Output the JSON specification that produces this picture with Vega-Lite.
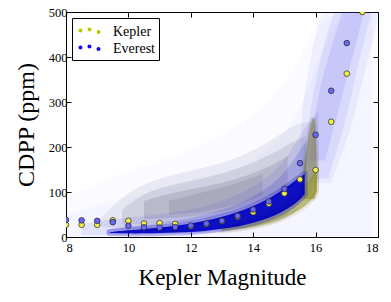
{
  "$schema": "https://vega.github.io/schema/vega-lite/v6.json",
  "width": 312,
  "height": 225,
  "autosize": {"type": "none"},
  "padding": {"left": 66, "top": 12, "right": 13, "bottom": 65},
  "background": "white",
  "config": {
    "view": {"stroke": "black", "strokeWidth": 1},
    "font": "Liberation Serif",
    "axis": {
      "domain": false, "grid": false, "tickSize": -5, "tickColor": "black", "tickWidth": 1,
      "labelFont": "Liberation Serif", "labelFontSize": 12.5, "labelColor": "black",
      "titleFont": "Liberation Serif", "titleFontWeight": "normal", "titleColor": "black"
    },
    "area": {"interpolate": "basis", "clip": true}
  },
  "datasets": {
    "bands": [
      {"layer": "haze1", "mag": 8, "lo": 0, "hi": 90},
      {"layer": "haze1", "mag": 10, "lo": 0, "hi": 150},
      {"layer": "haze1", "mag": 12, "lo": 0, "hi": 190},
      {"layer": "haze1", "mag": 14, "lo": 0, "hi": 260},
      {"layer": "haze1", "mag": 15.5, "lo": 0, "hi": 380},
      {"layer": "haze1", "mag": 16, "lo": 0, "hi": 500},
      {"layer": "haze1", "mag": 18, "lo": 0, "hi": 500},
      {"layer": "haze2", "mag": 8, "lo": 0, "hi": 50},
      {"layer": "haze2", "mag": 10, "lo": 0, "hi": 90},
      {"layer": "haze2", "mag": 12, "lo": 0, "hi": 120},
      {"layer": "haze2", "mag": 14, "lo": 0, "hi": 160},
      {"layer": "haze2", "mag": 15.5, "lo": 0, "hi": 250},
      {"layer": "haze2", "mag": 16.5, "lo": 0, "hi": 500},
      {"layer": "haze2", "mag": 17.8, "lo": 0, "hi": 500},

      {"layer": "g1", "mag": 9.0, "lo": 25, "hi": 35},
      {"layer": "g1", "mag": 9.8, "lo": 18, "hi": 90},
      {"layer": "g1", "mag": 10.5, "lo": 18, "hi": 120},
      {"layer": "g1", "mag": 11.5, "lo": 22, "hi": 140},
      {"layer": "g1", "mag": 12.5, "lo": 30, "hi": 155},
      {"layer": "g1", "mag": 13.5, "lo": 45, "hi": 175},
      {"layer": "g1", "mag": 14.5, "lo": 70, "hi": 210},
      {"layer": "g1", "mag": 15.2, "lo": 95, "hi": 245},
      {"layer": "g1", "mag": 15.7, "lo": 130, "hi": 260},
      {"layer": "g1", "mag": 16.0, "lo": 170, "hi": 250},
      {"layer": "g2", "mag": 9.8, "lo": 28, "hi": 60},
      {"layer": "g2", "mag": 10.5, "lo": 28, "hi": 100},
      {"layer": "g2", "mag": 11.5, "lo": 32, "hi": 118},
      {"layer": "g2", "mag": 12.5, "lo": 40, "hi": 132},
      {"layer": "g2", "mag": 13.5, "lo": 55, "hi": 150},
      {"layer": "g2", "mag": 14.5, "lo": 80, "hi": 180},
      {"layer": "g2", "mag": 15.2, "lo": 105, "hi": 210},
      {"layer": "g2", "mag": 15.7, "lo": 140, "hi": 225},
      {"layer": "g3", "mag": 10.5, "lo": 40, "hi": 80},
      {"layer": "g3", "mag": 11.5, "lo": 42, "hi": 100},
      {"layer": "g3", "mag": 12.5, "lo": 50, "hi": 112},
      {"layer": "g3", "mag": 13.5, "lo": 62, "hi": 128},
      {"layer": "g3", "mag": 14.5, "lo": 88, "hi": 155},
      {"layer": "g3", "mag": 15.1, "lo": 110, "hi": 180},
      {"layer": "g4", "mag": 11.3, "lo": 50, "hi": 80},
      {"layer": "g4", "mag": 12.3, "lo": 55, "hi": 98},
      {"layer": "g4", "mag": 13.3, "lo": 68, "hi": 115},
      {"layer": "g4", "mag": 14.3, "lo": 92, "hi": 140},

      {"layer": "h1", "mag": 8.5, "lo": 4, "hi": 30},
      {"layer": "h1", "mag": 9.5, "lo": 4, "hi": 40},
      {"layer": "h1", "mag": 11, "lo": 5, "hi": 50},
      {"layer": "h1", "mag": 12, "lo": 7, "hi": 60},
      {"layer": "h1", "mag": 13, "lo": 10, "hi": 78},
      {"layer": "h1", "mag": 14, "lo": 18, "hi": 110},
      {"layer": "h1", "mag": 14.8, "lo": 32, "hi": 150},
      {"layer": "h1", "mag": 15.3, "lo": 50, "hi": 200},
      {"layer": "h1", "mag": 15.7, "lo": 80, "hi": 250},
      {"layer": "h1", "mag": 16.1, "lo": 130, "hi": 280},
      {"layer": "h2", "mag": 9.3, "lo": 6, "hi": 16},
      {"layer": "h2", "mag": 10, "lo": 6, "hi": 24},
      {"layer": "h2", "mag": 11, "lo": 7, "hi": 30},
      {"layer": "h2", "mag": 12, "lo": 9, "hi": 42},
      {"layer": "h2", "mag": 13, "lo": 14, "hi": 58},
      {"layer": "h2", "mag": 14, "lo": 24, "hi": 88},
      {"layer": "h2", "mag": 14.8, "lo": 40, "hi": 125},
      {"layer": "h2", "mag": 15.3, "lo": 60, "hi": 170},
      {"layer": "h2", "mag": 15.7, "lo": 95, "hi": 215},

      {"layer": "fringe", "mag": 13, "lo": 13, "hi": 22},
      {"layer": "fringe", "mag": 13.5, "lo": 17, "hi": 30},
      {"layer": "fringe", "mag": 14, "lo": 22, "hi": 42},
      {"layer": "fringe", "mag": 14.5, "lo": 30, "hi": 56},
      {"layer": "fringe", "mag": 15, "lo": 42, "hi": 78},
      {"layer": "fringe", "mag": 15.5, "lo": 60, "hi": 105},
      {"layer": "fringe", "mag": 15.85, "lo": 80, "hi": 130},
      {"layer": "fringe", "mag": 16.03, "lo": 100, "hi": 150},

      {"layer": "core", "mag": 9.4, "lo": 9, "hi": 10.5},
      {"layer": "core", "mag": 10, "lo": 8, "hi": 15},
      {"layer": "core", "mag": 10.5, "lo": 8, "hi": 18},
      {"layer": "core", "mag": 11, "lo": 9, "hi": 21},
      {"layer": "core", "mag": 11.5, "lo": 10, "hi": 25},
      {"layer": "core", "mag": 12, "lo": 11, "hi": 30},
      {"layer": "core", "mag": 12.5, "lo": 14, "hi": 36},
      {"layer": "core", "mag": 13, "lo": 18, "hi": 45},
      {"layer": "core", "mag": 13.5, "lo": 23, "hi": 55},
      {"layer": "core", "mag": 14, "lo": 31, "hi": 68},
      {"layer": "core", "mag": 14.5, "lo": 42, "hi": 85},
      {"layer": "core", "mag": 15, "lo": 58, "hi": 107},
      {"layer": "core", "mag": 15.4, "lo": 76, "hi": 128},
      {"layer": "core", "mag": 15.65, "lo": 95, "hi": 140}
    ],
    "cols": [
      {"layer": "cw", "cdpp": 120, "left": 15.5, "right": 16.5},
      {"layer": "cw", "cdpp": 250, "left": 15.5, "right": 17.2},
      {"layer": "cw", "cdpp": 350, "left": 15.7, "right": 17.5},
      {"layer": "cw", "cdpp": 450, "left": 16.0, "right": 17.9},
      {"layer": "cw", "cdpp": 500, "left": 16.2, "right": 18.0},
      {"layer": "cm", "cdpp": 130, "left": 15.6, "right": 16.4},
      {"layer": "cm", "cdpp": 250, "left": 15.75, "right": 16.95},
      {"layer": "cm", "cdpp": 350, "left": 16.0, "right": 17.25},
      {"layer": "cm", "cdpp": 450, "left": 16.35, "right": 17.6},
      {"layer": "cm", "cdpp": 500, "left": 16.6, "right": 17.8},
      {"layer": "ci", "cdpp": 170, "left": 15.8, "right": 16.3},
      {"layer": "ci", "cdpp": 260, "left": 15.95, "right": 16.65},
      {"layer": "ci", "cdpp": 340, "left": 16.15, "right": 16.95},
      {"layer": "ci", "cdpp": 430, "left": 16.55, "right": 17.3},
      {"layer": "ci", "cdpp": 500, "left": 16.85, "right": 17.55},
      {"layer": "olive", "cdpp": 85, "left": 15.5, "right": 15.95},
      {"layer": "olive", "cdpp": 110, "left": 15.55, "right": 16.04},
      {"layer": "olive", "cdpp": 150, "left": 15.62, "right": 16.04},
      {"layer": "olive", "cdpp": 200, "left": 15.72, "right": 16.02},
      {"layer": "olive", "cdpp": 240, "left": 15.82, "right": 16.0},
      {"layer": "olive", "cdpp": 262, "left": 15.9, "right": 15.97}
    ],
    "med": [
      {"src": "Kepler", "mag": 8, "cdpp": 27},
      {"src": "Kepler", "mag": 8.5, "cdpp": 27},
      {"src": "Kepler", "mag": 9, "cdpp": 27},
      {"src": "Kepler", "mag": 9.5, "cdpp": 37},
      {"src": "Kepler", "mag": 10, "cdpp": 36},
      {"src": "Kepler", "mag": 10.5, "cdpp": 30},
      {"src": "Kepler", "mag": 11, "cdpp": 31},
      {"src": "Kepler", "mag": 11.5, "cdpp": 29},
      {"src": "Kepler", "mag": 12, "cdpp": 24},
      {"src": "Kepler", "mag": 12.5, "cdpp": 29},
      {"src": "Kepler", "mag": 13, "cdpp": 35},
      {"src": "Kepler", "mag": 13.5, "cdpp": 45},
      {"src": "Kepler", "mag": 14, "cdpp": 55},
      {"src": "Kepler", "mag": 14.5, "cdpp": 74},
      {"src": "Kepler", "mag": 15, "cdpp": 97},
      {"src": "Kepler", "mag": 15.5, "cdpp": 128},
      {"src": "Kepler", "mag": 16, "cdpp": 149},
      {"src": "Kepler", "mag": 16.5, "cdpp": 256},
      {"src": "Kepler", "mag": 17, "cdpp": 363},
      {"src": "Kepler", "mag": 17.5, "cdpp": 500},
      {"src": "Everest", "mag": 8, "cdpp": 38},
      {"src": "Everest", "mag": 8.5, "cdpp": 37},
      {"src": "Everest", "mag": 9, "cdpp": 36},
      {"src": "Everest", "mag": 9.5, "cdpp": 33},
      {"src": "Everest", "mag": 10, "cdpp": 25},
      {"src": "Everest", "mag": 10.5, "cdpp": 21.5},
      {"src": "Everest", "mag": 11, "cdpp": 21},
      {"src": "Everest", "mag": 11.5, "cdpp": 22},
      {"src": "Everest", "mag": 12, "cdpp": 25.5},
      {"src": "Everest", "mag": 12.5, "cdpp": 30},
      {"src": "Everest", "mag": 13, "cdpp": 36},
      {"src": "Everest", "mag": 13.5, "cdpp": 47},
      {"src": "Everest", "mag": 14, "cdpp": 61},
      {"src": "Everest", "mag": 14.5, "cdpp": 79},
      {"src": "Everest", "mag": 15, "cdpp": 107},
      {"src": "Everest", "mag": 15.5, "cdpp": 164},
      {"src": "Everest", "mag": 16, "cdpp": 227},
      {"src": "Everest", "mag": 16.5, "cdpp": 325},
      {"src": "Everest", "mag": 17, "cdpp": 431}
    ]
  },
  "resolve": {"axis": {"x": "independent", "y": "independent"}, "scale": {"color": "independent"}},
  "layer": [
    {
      "data": {"name": "bands"},
      "transform": [{"filter": "datum.layer === 'haze1'"}],
      "mark": {"type": "area", "color": "#5050ff", "opacity": 0.03},
      "encoding": {
        "x": {"field": "mag", "type": "quantitative", "scale": {"domain": [8, 18], "nice": false, "zero": false},
              "axis": {"title": "Kepler Magnitude", "titleFontSize": 23, "values": [8, 10, 12, 14, 16, 18], "labelPadding": 9, "titlePadding": 13}},
        "y": {"field": "lo", "type": "quantitative", "scale": {"domain": [0, 500], "nice": false},
              "axis": {"title": "CDPP (ppm)", "titleFontSize": 24, "values": [0, 100, 200, 300, 400, 500], "labelPadding": 4, "titlePadding": 10}},
        "y2": {"field": "hi"}
      }
    },
    {
      "data": {"name": "bands"},
      "transform": [{"filter": "datum.layer === 'haze2'"}],
      "mark": {"type": "area", "color": "#5050ff", "opacity": 0.03},
      "encoding": {"x": {"field": "mag", "type": "quantitative", "axis": null}, "y": {"field": "lo", "type": "quantitative", "axis": null}, "y2": {"field": "hi"}}
    },
    {
      "data": {"name": "bands"},
      "transform": [{"filter": "datum.layer === 'g1'"}],
      "mark": {"type": "area", "color": "#76769a", "opacity": 0.12},
      "encoding": {"x": {"field": "mag", "type": "quantitative", "axis": null}, "y": {"field": "lo", "type": "quantitative", "axis": null}, "y2": {"field": "hi"}}
    },
    {
      "data": {"name": "bands"},
      "transform": [{"filter": "datum.layer === 'g2'"}],
      "mark": {"type": "area", "color": "#6a6a8a", "opacity": 0.17},
      "encoding": {"x": {"field": "mag", "type": "quantitative", "axis": null}, "y": {"field": "lo", "type": "quantitative", "axis": null}, "y2": {"field": "hi"}}
    },
    {
      "data": {"name": "bands"},
      "transform": [{"filter": "datum.layer === 'g3'"}],
      "mark": {"type": "area", "color": "#5f5f7a", "opacity": 0.2},
      "encoding": {"x": {"field": "mag", "type": "quantitative", "axis": null}, "y": {"field": "lo", "type": "quantitative", "axis": null}, "y2": {"field": "hi"}}
    },
    {
      "data": {"name": "bands"},
      "transform": [{"filter": "datum.layer === 'g4'"}],
      "mark": {"type": "area", "color": "#585878", "opacity": 0.15},
      "encoding": {"x": {"field": "mag", "type": "quantitative", "axis": null}, "y": {"field": "lo", "type": "quantitative", "axis": null}, "y2": {"field": "hi"}}
    },
    {
      "data": {"name": "cols"},
      "transform": [{"filter": "datum.layer === 'cw'"}],
      "mark": {"type": "area", "orient": "horizontal", "color": "#5858ee", "opacity": 0.07},
      "encoding": {"y": {"field": "cdpp", "type": "quantitative", "axis": null}, "x": {"field": "left", "type": "quantitative", "axis": null}, "x2": {"field": "right"}}
    },
    {
      "data": {"name": "cols"},
      "transform": [{"filter": "datum.layer === 'cm'"}],
      "mark": {"type": "area", "orient": "horizontal", "color": "#5050ea", "opacity": 0.1},
      "encoding": {"y": {"field": "cdpp", "type": "quantitative", "axis": null}, "x": {"field": "left", "type": "quantitative", "axis": null}, "x2": {"field": "right"}}
    },
    {
      "data": {"name": "cols"},
      "transform": [{"filter": "datum.layer === 'ci'"}],
      "mark": {"type": "area", "orient": "horizontal", "color": "#4848e6", "opacity": 0.12},
      "encoding": {"y": {"field": "cdpp", "type": "quantitative", "axis": null}, "x": {"field": "left", "type": "quantitative", "axis": null}, "x2": {"field": "right"}}
    },
    {
      "data": {"name": "bands"},
      "transform": [{"filter": "datum.layer === 'h1'"}],
      "mark": {"type": "area", "color": "#3030e0", "opacity": 0.1},
      "encoding": {"x": {"field": "mag", "type": "quantitative", "axis": null}, "y": {"field": "lo", "type": "quantitative", "axis": null}, "y2": {"field": "hi"}}
    },
    {
      "data": {"name": "bands"},
      "transform": [{"filter": "datum.layer === 'h2'"}],
      "mark": {"type": "area", "color": "#2828dc", "opacity": 0.18},
      "encoding": {"x": {"field": "mag", "type": "quantitative", "axis": null}, "y": {"field": "lo", "type": "quantitative", "axis": null}, "y2": {"field": "hi"}}
    },
    {
      "data": {"name": "cols"},
      "transform": [{"filter": "datum.layer === 'olive'"}],
      "mark": {"type": "area", "orient": "horizontal", "interpolate": "monotone", "color": "#7a7a30", "fillOpacity": 0.5, "stroke": "#7a7a30", "strokeWidth": 4, "strokeOpacity": 0.15, "strokeJoin": "round"},
      "encoding": {"y": {"field": "cdpp", "type": "quantitative", "axis": null}, "x": {"field": "left", "type": "quantitative", "axis": null}, "x2": {"field": "right"}}
    },
    {
      "data": {"name": "bands"},
      "transform": [{"filter": "datum.layer === 'fringe'"}],
      "mark": {"type": "area", "fill": "#8f8f10", "fillOpacity": 0.5, "stroke": "#8f8f10", "strokeWidth": 5, "strokeOpacity": 0.15, "strokeJoin": "round"},
      "encoding": {"x": {"field": "mag", "type": "quantitative", "axis": null}, "y": {"field": "lo", "type": "quantitative", "axis": null}, "y2": {"field": "hi"}}
    },
    {
      "data": {"name": "bands"},
      "transform": [{"filter": "datum.layer === 'core'"}],
      "mark": {"type": "area", "fill": "#0000c0", "fillOpacity": 0, "stroke": "#1010c8", "strokeWidth": 6, "strokeOpacity": 0.25, "strokeJoin": "round"},
      "encoding": {"x": {"field": "mag", "type": "quantitative", "axis": null}, "y": {"field": "lo", "type": "quantitative", "axis": null}, "y2": {"field": "hi"}}
    },
    {
      "data": {"name": "bands"},
      "transform": [{"filter": "datum.layer === 'core'"}],
      "mark": {"type": "area", "color": "#0000c0", "opacity": 0.92},
      "encoding": {"x": {"field": "mag", "type": "quantitative", "axis": null}, "y": {"field": "lo", "type": "quantitative", "axis": null}, "y2": {"field": "hi"}}
    },
    {
      "data": {"name": "med"},
      "mark": {"type": "point", "shape": "circle", "filled": true, "size": 32, "opacity": 1, "stroke": "#222222", "strokeWidth": 0.7, "clip": true},
      "encoding": {
        "x": {"field": "mag", "type": "quantitative", "axis": {"orient": "top", "labels": false, "title": null, "values": [8, 10, 12, 14, 16, 18]}},
        "y": {"field": "cdpp", "type": "quantitative", "axis": {"orient": "right", "labels": false, "title": null, "values": [0, 100, 200, 300, 400, 500]}},
        "order": {"field": "src", "sort": "descending"},
        "fill": {"field": "src", "type": "nominal", "scale": {"domain": ["Kepler", "Everest"], "range": ["#f2ee4e", "#6868f0"]}, "legend": null}
      }
    },
    {
      "data": {"name": "med"},
      "transform": [{"filter": "datum.mag === 8"}],
      "mark": {"type": "point", "shape": "circle", "filled": true, "size": 0, "opacity": 1, "strokeWidth": 0},
      "encoding": {
        "x": {"field": "mag", "type": "quantitative", "axis": null},
        "y": {"field": "cdpp", "type": "quantitative", "axis": null},
        "color": {"field": "src", "type": "nominal",
          "scale": {"domain": ["Kepler", "Everest"], "range": ["#c4c400", "#0a0aff"]},
          "legend": {
            "title": null, "orient": "top-left", "offset": 6,
            "strokeColor": "black", "fillColor": "white", "padding": 4,
            "labelFont": "Liberation Serif", "labelFontSize": 14, "labelColor": "black",
            "labelOffset": 18, "rowPadding": 0,
            "symbolType": "M-0.74,-0.1a0.21,0.21 0 1,0 0.42,0a0.21,0.21 0 1,0 -0.42,0Z M0.21,-0.2a0.21,0.21 0 1,0 0.42,0a0.21,0.21 0 1,0 -0.42,0Z M1.16,0.05a0.21,0.21 0 1,0 0.42,0a0.21,0.21 0 1,0 -0.42,0Z",
            "symbolSize": 361,
            "symbolStrokeWidth": 0,
            "symbolOpacity": 1
          }
        }
      }
    }
  ]
}
